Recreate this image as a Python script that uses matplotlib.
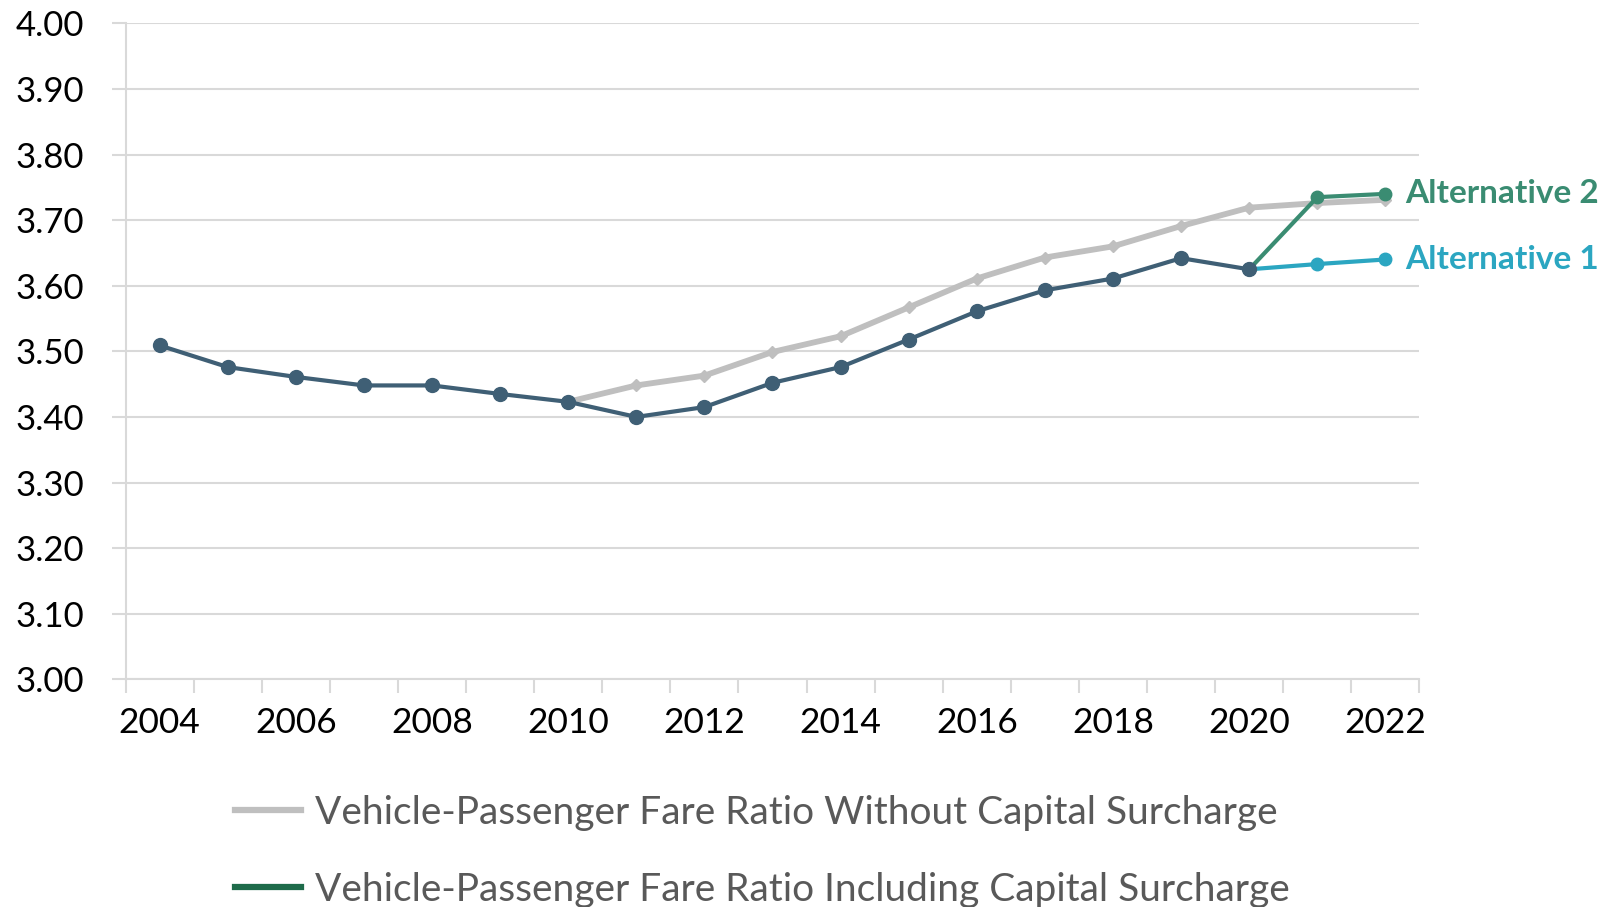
import matplotlib
matplotlib.use("Agg")
import matplotlib.pyplot as plt
from matplotlib.lines import Line2D
import numpy as np

plt.rcParams['font.family'] = ['Lato', 'DejaVu Sans']

years = list(range(2004, 2023))
incl_surcharge = [3.509, 3.476, 3.461, 3.448, 3.448, 3.435, 3.423, 3.400, 3.415,
                  3.452, 3.476, 3.518, 3.561, 3.593, 3.611, 3.642, 3.625]
without_years = list(range(2010, 2023))
without_surcharge = [3.423, 3.448, 3.463, 3.499, 3.523, 3.567, 3.611, 3.643,
                     3.660, 3.691, 3.719, 3.726, 3.731]
alt_years = [2020, 2021, 2022]
alt2 = [3.625, 3.735, 3.740]
alt1 = [3.625, 3.633, 3.640]

yticks = [3.00, 3.10, 3.20, 3.30, 3.40, 3.50, 3.60, 3.70, 3.80, 3.90, 4.00]
xlabels = [str(y) for y in years[::2]]

C_GREY = '#BFBFBF'
C_DARK = '#3F5F75'
C_ALT2 = '#3A8C72'
C_ALT1 = '#2BA6C1'
C_LEG2 = '#1E6B4A'
C_GRID = '#D9D9D9'

fig = plt.figure(figsize=(16.2, 9.07), dpi=100)
ax = fig.add_axes([0.0775, 0.2510, 0.7987, 0.7233])

idx = {y: i for i, y in enumerate(years)}
xw = [idx[y] for y in without_years]
xd = [idx[y] for y in years[:len(incl_surcharge)]]
xa = [idx[y] for y in alt_years]

ax.plot(xw, without_surcharge, color=C_GREY, lw=4.2, marker='D', ms=6.5,
        mfc=C_GREY, mec=C_GREY, zorder=3, solid_joinstyle='round')
ax.plot(xa, alt2, color=C_ALT2, lw=3.0, marker='o', ms=9, zorder=4)
ax.plot(xa, alt1, color=C_ALT1, lw=3.0, marker='o', ms=9, zorder=4)
ax.plot(xd, incl_surcharge, color=C_DARK, lw=3.0, marker='o', ms=10, zorder=5)

ax.annotate('Alternative 2', xy=(xa[-1], alt2[-1]), xytext=(14, 0),
            textcoords='offset points', va='center', ha='left',
            fontsize=24, fontweight='bold', color=C_ALT2, annotation_clip=False)
ax.annotate('Alternative 1', xy=(xa[-1], alt1[-1]), xytext=(14, 0),
            textcoords='offset points', va='center', ha='left',
            fontsize=24, fontweight='bold', color=C_ALT1, annotation_clip=False)

ax.set_xlim(-0.5, len(years) - 0.5)
ax.set_ylim(3.0, 4.0)
ax.set_yticks(yticks)
ax.set_yticklabels([f'{v:.2f}' for v in yticks])
ax.yaxis.grid(True, color=C_GRID, lw=1.5)
ax.set_axisbelow(True)

ax.set_xticks(np.arange(-0.5, len(years), 1.0))
ax.set_xticklabels([])
ax.set_xticks(np.arange(0, len(years), 2), minor=True)
ax.set_xticklabels(xlabels, minor=True)
ax.tick_params(axis='x', which='major', length=10, width=1.5, color=C_GRID, direction='out')
ax.tick_params(axis='x', which='minor', length=0, pad=20, labelsize=25.5, labelcolor='black')
ax.tick_params(axis='y', length=10, width=1.5, color=C_GRID, pad=20, labelsize=25, labelcolor='black')

for s in ['top', 'right']:
    ax.spines[s].set_visible(False)
for s in ['left', 'bottom']:
    ax.spines[s].set_color(C_GRID)
    ax.spines[s].set_linewidth(1.5)

handles = [Line2D([], [], color=C_GREY, lw=4.5),
           Line2D([], [], color=C_LEG2, lw=4.5)]
labels = ['Vehicle-Passenger Fare Ratio Without Capital Surcharge',
          'Vehicle-Passenger Fare Ratio Including Capital Surcharge']
leg = fig.legend(handles, labels, loc='upper left', bbox_to_anchor=(0.145, 0.1235),
                 frameon=False, fontsize=28, handlelength=1.7, handletextpad=0.35,
                 labelspacing=1.05, borderpad=0, borderaxespad=0)
for t in leg.get_texts():
    t.set_color('#595959')

fig.savefig('out.png', dpi=100)
